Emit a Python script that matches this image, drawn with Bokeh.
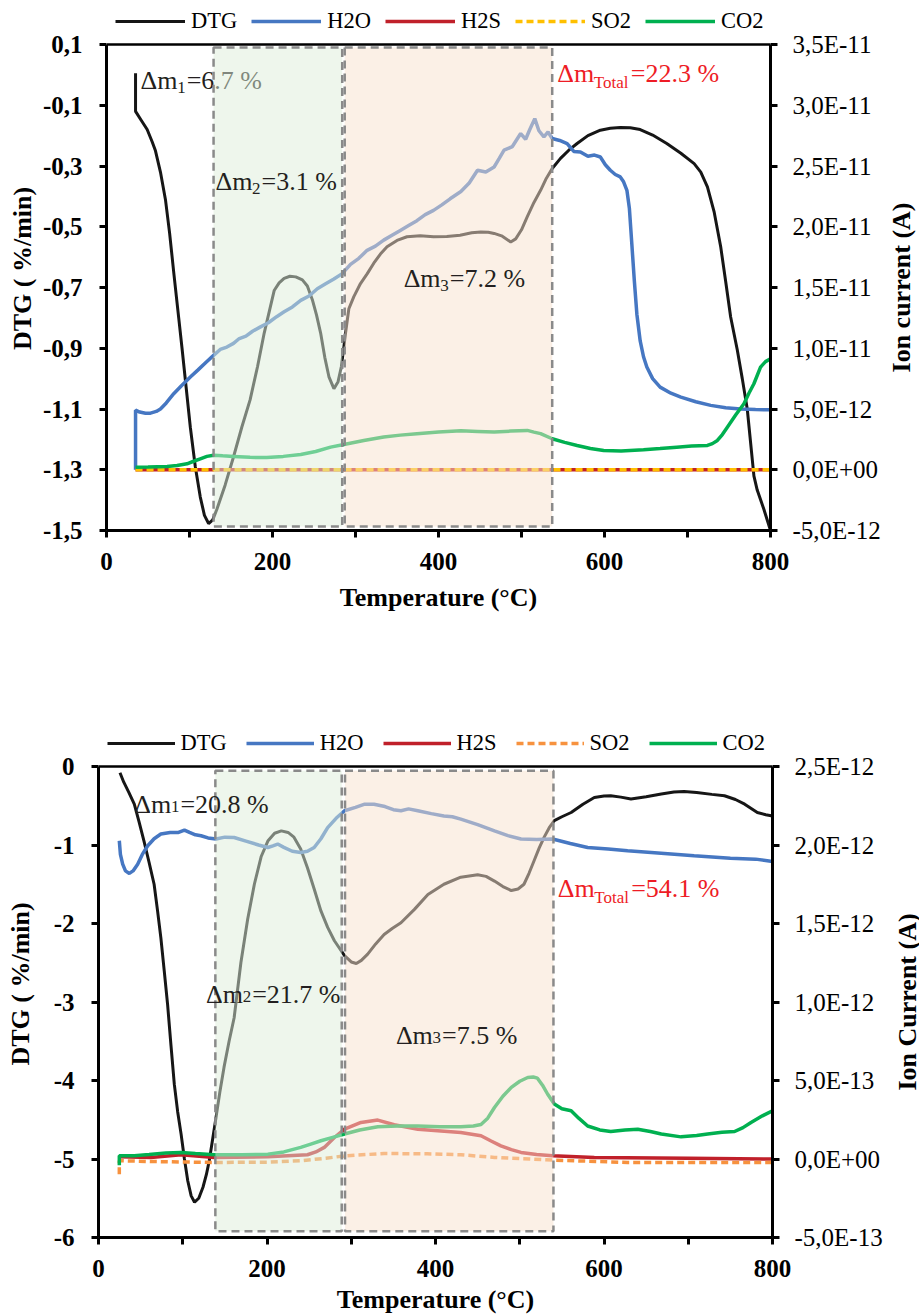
import math
from bokeh.plotting import figure
from bokeh.models import (Range1d, LinearAxis, FixedTicker, CustomJSTickFormatter,
                          Legend, LegendItem, Label, Span)
from bokeh.layouts import column, row
from bokeh.embed import file_html
from bokeh.resources import INLINE

FONT = "Liberation Serif"

# ---------------- data: top chart ----------------
top_dtg_T = [35, 35, 42, 49, 55, 59, 65, 71, 76, 81, 87, 91, 96, 101, 107, 113, 118, 123, 128, 133, 143, 153,
             163, 173, 182, 190, 196, 202, 208, 214, 221, 228, 236, 242, 248, 253, 258, 263, 268, 274, 279, 283,
             288, 292, 298, 306, 314, 322, 330, 338, 350, 362, 378, 394, 410, 426, 440, 451, 460, 467, 476, 487,
             493, 500, 507, 515, 523, 530, 537, 547, 557, 567, 580, 595, 607, 619, 631, 643, 658, 675, 692, 708,
             716, 724, 732, 740, 746, 752, 760, 766, 772, 780, 784, 792, 800]
top_dtg = [0.005, -0.12, -0.15, -0.18, -0.22, -0.25, -0.32, -0.41, -0.52, -0.65, -0.80, -0.90, -1.03, -1.16,
           -1.29, -1.39, -1.45, -1.477, -1.465, -1.43, -1.35, -1.258, -1.16, -1.07, -0.96, -0.85, -0.78, -0.71,
           -0.685, -0.67, -0.663, -0.665, -0.675, -0.695, -0.74, -0.79, -0.85, -0.93, -0.994, -1.033, -1.01,
           -0.96, -0.85, -0.77, -0.73, -0.687, -0.655, -0.62, -0.59, -0.566, -0.545, -0.533, -0.53, -0.533,
           -0.532, -0.528, -0.52, -0.517, -0.518, -0.522, -0.53, -0.55, -0.54, -0.51, -0.467, -0.42, -0.38,
           -0.34, -0.308, -0.275, -0.248, -0.226, -0.20, -0.182, -0.176, -0.173, -0.174, -0.18, -0.198, -0.226,
           -0.258, -0.292, -0.32, -0.369, -0.45, -0.566, -0.68, -0.797, -0.906, -1.00, -1.10, -1.32, -1.367,
           -1.43, -1.5]

# ion currents of the top chart, in 1E-12 A
top_h2o_T = [35, 35, 40, 47, 53, 60, 65, 72, 81, 90, 101, 110, 120, 129, 137, 145, 153, 160, 168, 176, 185, 195,
             205, 214, 224, 234, 244, 254, 264, 274, 284, 294, 304, 314, 324, 334, 344, 354, 364, 374, 384, 394,
             404, 414, 427, 437, 447, 457, 467, 473, 479, 489, 499, 505, 510, 516, 521, 527, 532, 537, 546, 555,
             563, 571, 580, 588, 595, 601, 607, 613, 619, 623, 627, 630, 633, 636, 639, 643, 647, 651, 658, 667,
             680, 692, 710, 728, 746, 764, 782, 800]
top_h2o_pA = [0.0, 4.9, 4.75, 4.65, 4.66, 4.8, 5.0, 5.5, 6.26, 6.9, 7.63, 8.2, 8.85, 9.41, 9.9, 10.1, 10.4, 10.8,
              11.0, 11.4, 11.74, 12.1, 12.6, 13.0, 13.4, 13.94, 14.3, 14.9, 15.3, 15.7, 16.14, 16.9, 17.4, 18.06,
              18.4, 18.9, 19.3, 19.7, 20.1, 20.5, 21.0, 21.35, 21.8, 22.3, 22.9, 23.6, 24.65, 24.5, 24.92, 25.6,
              26.3, 26.6, 27.67, 27.2, 28.0, 28.9, 27.9, 27.4, 27.8, 27.26, 27.1, 26.85, 26.2, 26.16, 25.8, 25.9,
              25.74, 25.1, 24.65, 24.3, 24.1, 23.7, 23.0, 21.5, 18.5, 15.5, 12.8, 10.6, 9.3, 8.45, 7.5, 6.8, 6.3,
              5.98, 5.6, 5.3, 5.1, 5.0, 4.95, 4.94]
top_co2_T = [35, 50, 73, 85, 97, 105, 113, 121, 129, 140, 153, 173, 193, 213, 234, 252, 270, 286, 310, 334, 354,
             374, 400, 427, 447, 467, 487, 507, 515, 523, 537, 552, 567, 583, 599, 620, 647, 667, 687, 705, 724,
             730, 736, 742, 748, 758, 768, 774, 780, 788, 794, 800]
top_co2_pA = [0.2, 0.22, 0.27, 0.35, 0.49, 0.7, 0.9, 1.1, 1.2, 1.15, 1.1, 1.02, 1.0, 1.1, 1.26, 1.5, 1.86, 2.08,
              2.4, 2.69, 2.85, 2.97, 3.1, 3.2, 3.15, 3.1, 3.18, 3.24, 3.1, 2.97, 2.55, 2.25, 2.0, 1.75, 1.59, 1.55,
              1.65, 1.75, 1.86, 1.95, 2.0, 2.15, 2.41, 2.9, 3.5, 4.5, 5.44, 6.3, 7.08, 8.45, 8.9, 9.14]
top_h2s_T = [35, 200, 400, 600, 800]
top_h2s_pA = [0.0, 0.0, 0.0, 0.0, 0.0]
top_so2_T = [35, 200, 400, 600, 800]
top_so2_pA = [0.0, 0.0, 0.0, 0.0, 0.0]

top_stage_left = [129, 287]
top_stage_right = [284, 537]

# ---------------- data: bottom chart ----------------
bot_dtg_T = [25.5, 30, 36, 42.5, 48, 54, 60, 66, 70, 74, 78, 82, 86, 90, 94, 98, 102, 106, 110, 114, 119, 124,
             128, 131.5, 135, 139.5, 144, 149, 155, 161, 169, 177, 185, 193, 201, 209, 217, 225, 232, 240, 248,
             256, 264, 272, 280, 292, 300, 306, 312, 319.5, 329, 339, 349, 359, 375, 391, 410, 430, 450, 460,
             470, 480, 490, 498, 505, 511, 517, 523, 529, 535, 541, 550, 561, 575, 588.5, 600, 608, 620, 632,
             650, 668, 683, 695, 710, 728, 743, 756, 767, 782, 792, 800]
bot_dtg = [-0.08, -0.2, -0.33, -0.48, -0.7, -0.95, -1.22, -1.5, -1.83, -2.18, -2.6, -3.03, -3.55, -4.05, -4.4,
           -4.68, -5.0, -5.28, -5.47, -5.55, -5.5, -5.36, -5.2, -5.02, -4.78, -4.47, -4.15, -3.83, -3.5, -3.2,
           -2.5, -1.95, -1.5, -1.15, -0.95, -0.85, -0.82, -0.84, -0.9, -1.05, -1.29, -1.56, -1.84, -2.05, -2.22,
           -2.41, -2.49, -2.51, -2.47, -2.39, -2.26, -2.14, -2.06, -1.99, -1.82, -1.63, -1.5, -1.41, -1.38,
           -1.40, -1.46, -1.53, -1.58, -1.56, -1.5, -1.36, -1.2, -1.04, -0.9, -0.78, -0.69, -0.64, -0.586,
           -0.48, -0.395, -0.375, -0.373, -0.39, -0.415, -0.385, -0.35, -0.325, -0.318, -0.33, -0.355, -0.373,
           -0.42, -0.48, -0.586, -0.615, -0.63]

# ion currents of the bottom chart, in 1E-13 A
bot_h2o_T = [24.7, 26, 28.7, 32, 36.6, 41, 46.5, 52, 58.4, 66, 74, 85, 95, 102, 108, 115, 121.7, 130, 139.5, 150,
             161, 175, 190, 201, 207, 212.7, 220, 230, 240, 248, 256, 264, 272, 282, 292, 305, 316, 327, 340,
             350, 359, 368, 379, 395, 410, 420, 430, 450, 470, 486, 501.5, 520, 539, 560, 580.6, 605, 628, 660,
             707, 750, 780, 800]
bot_h2o_e13 = [20.27, 19.4, 18.78, 18.35, 18.19, 18.35, 18.78, 19.4, 19.95, 20.4, 20.7, 20.8, 20.8, 20.95, 20.8,
               20.65, 20.59, 20.45, 20.38, 20.5, 20.48, 20.25, 20.0, 19.84, 19.95, 20.06, 19.85, 19.6, 19.52,
               19.6, 19.84, 20.4, 21.11, 21.7, 22.18, 22.4, 22.6, 22.6, 22.45, 22.25, 22.18, 22.3, 22.18, 22.0,
               21.85, 21.8, 21.65, 21.3, 20.9, 20.6, 20.38, 20.35, 20.38, 20.1, 19.84, 19.75, 19.63, 19.5, 19.31,
               19.15, 19.1, 18.95]
bot_co2_T = [24.7, 24.7, 42.4, 60, 80, 98, 115, 137.5, 170, 201, 220, 240, 252, 264, 278, 292, 310, 331.5, 355,
             379, 405, 430, 445, 454, 462, 470, 480, 490, 500, 509.5, 516, 521, 527, 533, 541, 550, 561, 570,
             580.6, 595, 608, 625, 640, 655, 668, 691.5, 710, 723, 740, 755, 765, 774.5, 788, 800]
bot_co2_e13 = [-0.4, 0.2, 0.2, 0.28, 0.38, 0.42, 0.35, 0.27, 0.27, 0.31, 0.45, 0.74, 0.95, 1.16, 1.38, 1.59,
               1.85, 2.05, 2.1, 2.1, 2.05, 2.05, 2.1, 2.2, 2.6, 3.28, 4.0, 4.56, 4.95, 5.19, 5.22, 5.15, 4.7,
               4.14, 3.5, 3.2, 3.07, 2.6, 2.1, 1.85, 1.75, 1.85, 1.9, 1.75, 1.59, 1.41, 1.5, 1.59, 1.7, 1.75,
               2.0, 2.33, 2.75, 3.07]
bot_h2s_T = [24.7, 62, 98, 137.5, 201, 248, 258, 268, 280, 292, 311.6, 331.5, 351, 379, 430, 454, 466, 477.6,
             490, 501.5, 520, 539, 588.5, 700, 800]
bot_h2s_e13 = [0.14, 0.1, 0.27, 0.1, 0.14, 0.27, 0.45, 0.74, 1.37, 1.9, 2.33, 2.48, 2.18, 1.9, 1.69, 1.48, 1.15,
               0.84, 0.6, 0.42, 0.28, 0.2, 0.1, 0.05, 0.0]
bot_so2_T = [24.7, 24.7, 62, 137.5, 200, 240, 270, 292, 339, 390, 430, 470, 539, 628, 800]
bot_so2_e13 = [-0.97, -0.11, -0.16, -0.22, -0.2, -0.11, 0.05, 0.2, 0.35, 0.33, 0.27, 0.1, -0.07, -0.22, -0.22]

bot_stage_left = [138.7, 292.6]
bot_stage_right = [288.7, 540]

# ---------------- ticks / labels ----------------
x_ticks = [0, 100, 200, 300, 400, 500, 600, 700, 800]
x_labels = ["0", "", "200", "", "400", "", "600", "", "800"]
top_left_ticks = [0.1, -0.1, -0.3, -0.5, -0.7, -0.9, -1.1, -1.3, -1.5]
top_left_labels = ["0,1", "-0,1", "-0,3", "-0,5", "-0,7", "-0,9", "-1,1", "-1,3", "-1,5"]
top_right_ticks = [35, 30, 25, 20, 15, 10, 5, 0, -5]
top_right_labels = ["3,5E-11", "3,0E-11", "2,5E-11", "2,0E-11", "1,5E-11", "1,0E-11", "5,0E-12",
                    "0,0E+00", "-5,0E-12"]
bot_left_ticks = [0, -1, -2, -3, -4, -5, -6]
bot_left_labels = ["0", "-1", "-2", "-3", "-4", "-5", "-6"]
bot_right_ticks = [25, 20, 15, 10, 5, 0, -5]
bot_right_labels = ["2,5E-12", "2,0E-12", "1,5E-12", "1,0E-12", "5,0E-13", "0,0E+00", "-5,0E-13"]

series_names = ["DTG", "H2O", "H2S", "SO2", "CO2"]

C_DTG = "#161616"
C_H2O = "#4677C2"
C_H2S = "#C0202A"
C_SO2_TOP = "#FFC000"
C_SO2_BOT = "#F7923F"
C_CO2 = "#00B050"
C_RED_TXT = "#EE1C25"
C_TXT = "#231F20"

MAIN_W = 882   # width of each chart figure; the right-hand axis title sits in a narrow figure beside it

FMT_CODE = """
for (let i = 0; i < vals.length; i++) {
  if (Math.abs(tick - vals[i]) <= tol) { return labs[i]; }
}
return "";
"""


def fmt(vals, labs):
    return CustomJSTickFormatter(args=dict(vals=vals, labs=labs, tol=1e-6), code=FMT_CODE)


def style_axis(ax, bold=True):
    ax.axis_line_width = 3
    ax.axis_line_color = "black"
    ax.major_tick_line_width = 3
    ax.major_tick_line_color = "black"
    ax.major_tick_in = 0
    ax.major_tick_out = 7
    ax.minor_tick_out = 0
    ax.minor_tick_in = 0
    ax.major_label_text_font = FONT
    ax.major_label_text_font_size = "25px"
    ax.major_label_text_font_style = "bold" if bold else "normal"
    ax.major_label_text_color = "black"
    ax.axis_label_text_font = FONT
    ax.axis_label_text_font_size = "26px"
    ax.axis_label_text_font_style = "bold"
    ax.axis_label_text_color = "black"


TW = {'Δ': 0.612, 'm': 0.778, '=': 0.564, '.': 0.25, ' ': 0.25, '%': 0.833, 'T': 0.611, 'o': 0.5,
      't': 0.278, 'a': 0.444, 'l': 0.278}


def tw(s, size):
    return sum(TW.get(c, 0.5) for c in s) * size


def rich(p, x, y, head, sub, tail, color, drop, level="overlay", size=26, sub_size=17):
    common = dict(text_font=FONT, text_color=color, text_baseline="alphabetic", text_align="left", level=level)
    p.add_layout(Label(x=x, y=y, text=head, text_font_size=f"{size}px", **common))
    off = tw(head, size) + 0.5
    p.add_layout(Label(x=x, y=y, x_offset=off, y_offset=-drop, text=sub,
                       text_font_size=f"{sub_size}px", **common))
    off2 = off + tw(sub, sub_size) + 1
    p.add_layout(Label(x=x, y=y, x_offset=off2, text=tail, text_font_size=f"{size}px", **common))


def make_chart(cfg):
    ylo, yhi = cfg["yr"]
    ilo, ihi = cfg["ir"]
    ch = cfg["fh"]           # height of the chart box in px
    ext = cfg["legspace"]    # px above the chart box reserved for the legend (inside the frame)
    y_top = yhi + ext * (yhi - ylo) / ch
    i_top = ihi + ext * (ihi - ilo) / ch

    p = figure(frame_width=cfg["fw"], frame_height=ch + ext,
               min_border_left=cfg["bl"], min_border_right=MAIN_W - cfg["bl"] - cfg["fw"],
               min_border_top=cfg["bt"], min_border_bottom=cfg["bb"],
               x_range=Range1d(0, 800), y_range=Range1d(ylo, y_top),
               output_backend="svg", toolbar_location=None)
    p.extra_y_ranges = {"ion": Range1d(ilo, i_top)}
    p.xgrid.visible = False
    p.ygrid.visible = False
    p.outline_line_color = None
    p.background_fill_color = "white"
    p.border_fill_color = "white"

    r_dtg = p.line(cfg["dtg"][0], cfg["dtg"][1], line_color=C_DTG, line_width=3)
    r_h2o = p.line(cfg["h2o"][0], cfg["h2o"][1], y_range_name="ion", line_color=C_H2O, line_width=3.5)
    r_h2s = p.line(cfg["h2s"][0], cfg["h2s"][1], y_range_name="ion", line_color=C_H2S, line_width=3.5)
    r_so2 = p.line(cfg["so2"][0], cfg["so2"][1], y_range_name="ion", line_color=cfg["so2c"], line_width=3.5,
                   line_dash="7 4")
    r_co2 = p.line(cfg["co2"][0], cfg["co2"][1], y_range_name="ion", line_color=C_CO2, line_width=3.5)

    # stage boxes (semi-transparent, drawn over the curves)
    p.quad(left=cfg["sl"], right=cfg["sr"], top=[cfg["bt_y"]] * 2, bottom=[cfg["bb_y"]] * 2,
           fill_color=["#DDEDD9", "#F7E1CD"], fill_alpha=0.5,
           line_color="#8A8A8A", line_width=2.5, line_dash="8 5", level="annotation")

    # top edge of the chart box
    p.add_layout(Span(location=yhi, dimension="width", line_color="black", line_width=2.5))

    # axes
    p.xaxis.ticker = FixedTicker(ticks=x_ticks)
    p.xaxis.formatter = fmt(x_ticks, x_labels)
    p.xaxis.axis_label = "Temperature (°C)"
    style_axis(p.xaxis[0], True)
    p.xaxis.major_label_standoff = 15
    p.xaxis.axis_label_standoff = cfg["xas"]

    p.yaxis.ticker = FixedTicker(ticks=cfg["lt"])
    p.yaxis.formatter = fmt(cfg["lt"], cfg["ll"])
    p.yaxis.axis_label = "DTG ( %/min)"
    p.yaxis.bounds = (ylo, yhi)
    style_axis(p.yaxis[0], True)
    p.yaxis.major_label_standoff = 17
    p.yaxis.axis_label_standoff = cfg["las"]

    ra = LinearAxis(y_range_name="ion", ticker=FixedTicker(ticks=cfg["rt"]),
                    formatter=fmt(cfg["rt"], cfg["rl"]), bounds=(ilo, ihi))
    style_axis(ra, False)
    ra.major_label_standoff = 15
    p.add_layout(ra, "right")

    items = [LegendItem(label=n, renderers=[r]) for n, r in
             zip(series_names, [r_dtg, r_h2o, r_h2s, r_so2, r_co2])]
    leg = Legend(items=items, orientation="horizontal", location=(cfg["legx"], ch + ext - cfg["legdy"]),
                 glyph_width=cfg["gw"], glyph_height=20, label_standoff=6, spacing=cfg["lsp"],
                 padding=0, margin=0, border_line_alpha=0, background_fill_alpha=0,
                 label_text_font=FONT, label_text_font_size="22.5px", label_text_color="black")
    p.add_layout(leg)

    for a in cfg["ann"]:
        rich(p, *a)
    return p


def title_fig(text, cfg, left_px):
    """Narrow figure carrying the right-hand axis title, reading bottom to top."""
    tf = figure(frame_width=1, frame_height=cfg["fh"],
                min_border_left=left_px, min_border_right=0,
                min_border_top=cfg["bt"] + cfg["legspace"], min_border_bottom=cfg["bb"],
                x_range=Range1d(0, 1), y_range=Range1d(0, 1), x_axis_type=None,
                output_backend="svg", toolbar_location=None)
    tf.outline_line_color = None
    tf.xgrid.visible = False
    tf.ygrid.visible = False
    ax = tf.yaxis[0]
    ax.ticker = FixedTicker(ticks=[])
    ax.axis_line_color = None
    ax.major_tick_out = 0
    ax.major_tick_in = 0
    ax.minor_tick_out = 0
    ax.minor_tick_in = 0
    ax.axis_label = text
    ax.axis_label_standoff = 0
    ax.axis_label_text_font = FONT
    ax.axis_label_text_font_size = "26px"
    ax.axis_label_text_font_style = "bold"
    ax.axis_label_text_color = "black"
    return tf


top_cfg = dict(
    fw=664, fh=486, legspace=38, bl=106, bt=6, bb=120, yr=(-1.5, 0.1), ir=(-5, 35),
    dtg=(top_dtg_T, top_dtg), h2o=(top_h2o_T, top_h2o_pA), h2s=(top_h2s_T, top_h2s_pA),
    so2=(top_so2_T, top_so2_pA), co2=(top_co2_T, top_co2_pA), so2c=C_SO2_TOP,
    sl=top_stage_left, sr=top_stage_right, bt_y=0.09, bb_y=-1.487,
    lt=top_left_ticks, ll=top_left_labels, rt=top_right_ticks, rl=top_right_labels, las=3, xas=10,
    legx=9, legdy=28, gw=70, lsp=14,
    ann=[
        (41, -0.0175, "Δm", "1", "=6.7 %", C_TXT, 7, "glyph"),
        (131.3, -0.352, "Δm", "2", "=3.1 %", C_TXT, 7),
        (358, -0.670, "Δm", "3", "=7.2 %", C_TXT, 7),
        (543, 0.0045, "Δm", "Total", "=22.3 %", C_RED_TXT, 9),
    ],
)

bot_cfg = dict(
    fw=674, fh=471, legspace=36, bl=98, bt=80, bb=80, yr=(-6, 0), ir=(-5, 25),
    dtg=(bot_dtg_T, bot_dtg), h2o=(bot_h2o_T, bot_h2o_e13), h2s=(bot_h2s_T, bot_h2s_e13),
    so2=(bot_so2_T, bot_so2_e13), co2=(bot_co2_T, bot_co2_e13), so2c=C_SO2_BOT,
    sl=bot_stage_left, sr=bot_stage_right, bt_y=-0.055, bb_y=-5.92,
    lt=bot_left_ticks, ll=bot_left_labels, rt=bot_right_ticks, rl=bot_right_labels, las=16, xas=5,
    legx=8.5, legdy=26, gw=68, lsp=19,
    ann=[
        (42.5, -0.48, "Δm", "1", "=20.8 %", C_TXT, 2),
        (127.6, -2.90, "Δm", "2", "=21.7 %", C_TXT, 2),
        (353, -3.43, "Δm", "3", "=7.5 %", C_TXT, 2),
        (545, -1.56, "Δm", "Total", "=54.1 %", C_RED_TXT, 9),
    ],
)

p1 = make_chart(top_cfg)
t1 = title_fig("Ion current (A)", top_cfg, 31)
p2 = make_chart(bot_cfg)
t2 = title_fig("Ion Current (A)", bot_cfg, 36)
layout = column(row(column(p1), column(t1)), row(column(p2), column(t2)))

open("out.html", "w").write(file_html(layout, INLINE))
